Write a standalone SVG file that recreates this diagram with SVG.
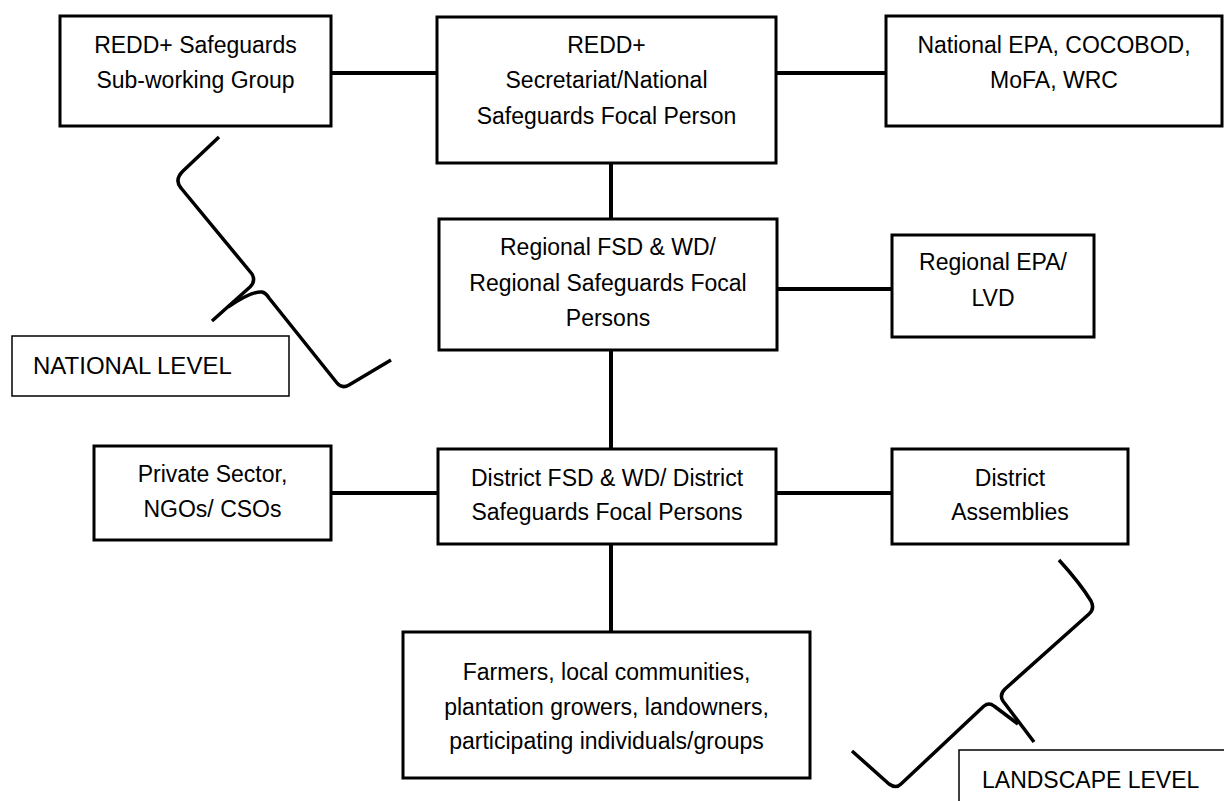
<svg xmlns="http://www.w3.org/2000/svg" width="1224" height="801" viewBox="0 0 1224 801">
<style>
.box{fill:#fff;stroke:#000;stroke-width:3}
.lvl{fill:#fff;stroke:#000;stroke-width:1.5}
.t{font-family:"Liberation Sans",Arial,sans-serif;font-size:23px;fill:#000;text-anchor:middle}
.tl{font-family:"Liberation Sans",Arial,sans-serif;fill:#000}
.c{stroke:#000;stroke-width:4;fill:none}
.br{stroke:#000;stroke-width:3.5;fill:none;stroke-linejoin:round;stroke-linecap:butt}
</style>
<rect width="1224" height="801" fill="#fff"/>
<g id="connectors">
<line class="c" x1="331" y1="73" x2="437" y2="73"/>
<line class="c" x1="776" y1="73" x2="886" y2="73"/>
<line class="c" x1="611" y1="163" x2="611" y2="219"/>
<line class="c" x1="777" y1="289" x2="892" y2="289"/>
<line class="c" x1="611" y1="350" x2="611" y2="449"/>
<line class="c" x1="331" y1="493" x2="438" y2="493"/>
<line class="c" x1="776" y1="493" x2="892" y2="493"/>
<line class="c" x1="611" y1="544" x2="611" y2="632"/>
</g>
<g id="n-subworking">
<rect class="box" x="60" y="16" width="271" height="110"/>
<text class="t" x="195.5" y="53">REDD+ Safeguards</text>
<text class="t" x="195.5" y="88">Sub-working Group</text>
</g>
<g id="n-secretariat">
<rect class="box" x="437" y="17" width="339" height="146"/>
<text class="t" x="606.5" y="53">REDD+</text>
<text class="t" x="606.5" y="88">Secretariat/National</text>
<text class="t" x="606.5" y="124">Safeguards Focal Person</text>
</g>
<g id="n-national-epa">
<rect class="box" x="886" y="16" width="336" height="110"/>
<text class="t" x="1054" y="53">National EPA, COCOBOD,</text>
<text class="t" x="1054" y="88">MoFA, WRC</text>
</g>
<g id="n-regional">
<rect class="box" x="439" y="219" width="338" height="131"/>
<text class="t" x="608" y="255">Regional FSD &amp; WD/</text>
<text class="t" x="608" y="291">Regional Safeguards Focal</text>
<text class="t" x="608" y="326">Persons</text>
</g>
<g id="n-regional-epa">
<rect class="box" x="892" y="235" width="202" height="102"/>
<text class="t" x="993" y="270">Regional EPA/</text>
<text class="t" x="993" y="306">LVD</text>
</g>
<g id="n-national-level">
<rect class="lvl" x="12" y="336" width="277" height="60"/>
<text class="tl" x="33" y="374" font-size="24">NATIONAL LEVEL</text>
</g>
<g id="n-private">
<rect class="box" x="94" y="446" width="237" height="94"/>
<text class="t" x="212.5" y="482">Private Sector,</text>
<text class="t" x="212.5" y="517">NGOs/ CSOs</text>
</g>
<g id="n-district">
<rect class="box" x="438" y="449" width="338" height="95"/>
<text class="t" x="607" y="486">District FSD &amp; WD/ District</text>
<text class="t" x="607" y="520">Safeguards Focal Persons</text>
</g>
<g id="n-assemblies">
<rect class="box" x="892" y="449" width="236" height="95"/>
<text class="t" x="1010" y="486">District</text>
<text class="t" x="1010" y="520">Assemblies</text>
</g>
<g id="n-farmers">
<rect class="box" x="403" y="632" width="407" height="146"/>
<text class="t" x="606.5" y="680">Farmers, local communities,</text>
<text class="t" x="606.5" y="715">plantation growers, landowners,</text>
<text class="t" x="606.5" y="749">participating individuals/groups</text>
</g>
<g id="n-landscape-level">
<rect class="lvl" x="959" y="750" width="280" height="60"/>
<text class="tl" x="982" y="788" font-size="23">LANDSCAPE LEVEL</text>
</g>
<g id="brace-national">
<path class="br" d="M219,137 L183,171 Q174,180 181,188 L252,274 Q256,281 250,287 L212,321"/>
<path class="br" d="M228,307 Q252,291 262,292 Q266,293 269,298 L337,383 Q342,389 349,385 L391,360"/>
</g>
<g id="brace-landscape">
<path class="br" d="M1059,560 Q1080,583 1091,601 Q1095,609 1089,614 L1005,689 Q999,695 1003,701 L1034,742"/>
<path class="br" d="M1018,724 L994,706 Q989,702 984,706 L901,784 Q896,789 889,784 L852,751"/>
</g>
</svg>
